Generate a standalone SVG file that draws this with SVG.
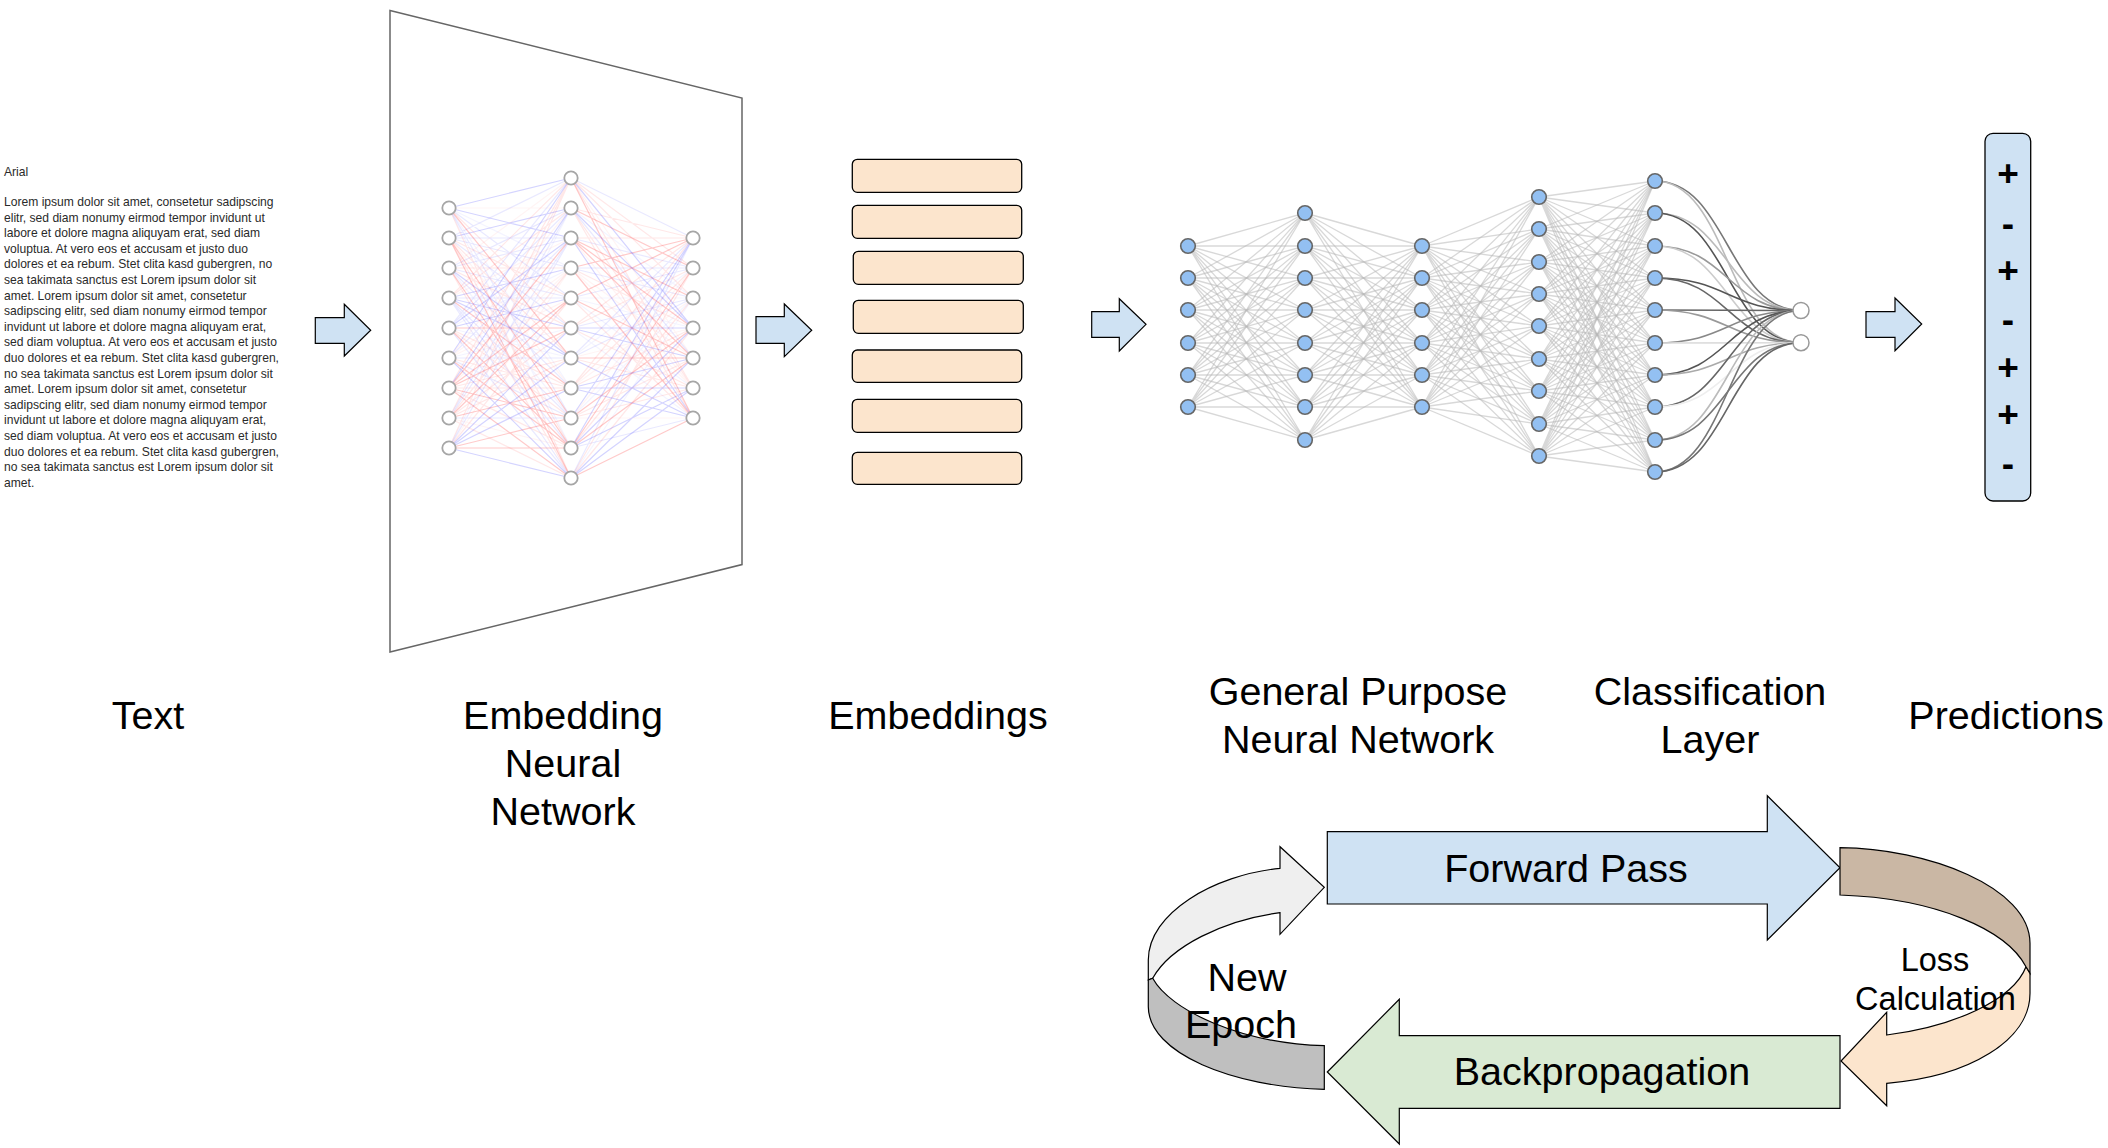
<svg xmlns="http://www.w3.org/2000/svg" width="2108" height="1148" viewBox="0 0 2108 1148">
<style>
.lbl{font-family:"Liberation Sans",Arial,sans-serif;font-size:39.5px;fill:#000;text-anchor:middle}
.small{font-family:"Liberation Sans",Arial,sans-serif;font-size:32.5px;fill:#000;text-anchor:middle}
.body{font-family:"Liberation Sans",Arial,sans-serif;font-size:12.1px;fill:#2a2a2a}
.pm{font-family:"Liberation Sans",Arial,sans-serif;font-size:37px;font-weight:bold;fill:#000;text-anchor:middle}
.flow{fill:#cfe2f3;stroke:#000;stroke-width:1.2}
.emb{fill:#fce5cd;stroke:#000;stroke-width:1.3}
.en{fill:#fff;stroke:#a6a6a6;stroke-width:1.8}
.gn{fill:#93c0f2;stroke:#666;stroke-width:1.6}
.on{fill:#fff;stroke:#999;stroke-width:1.5}
.gl path{stroke:#b8b8b8;stroke-opacity:.55;stroke-width:1.3;fill:none}
.ee path{fill:none;stroke-width:1.2}
.c0{stroke:#ff2a2a;stroke-opacity:.25}
.c1{stroke:#2a2aff;stroke-opacity:.2}
.c2{stroke:#ff2a2a;stroke-opacity:.11}
.c3{stroke:#2a2aff;stroke-opacity:.1}
.c4{stroke:#ff2a2a;stroke-opacity:.05}
.c5{stroke:#2a2aff;stroke-opacity:.05}
.cv path{fill:none;stroke-width:1.6}
.shape{stroke:#000;stroke-width:1.2}
</style>

<g id="text-node">
<text class="body" x="4" y="176">Arial</text>
<text class="body" x="4" y="206">Lorem ipsum dolor sit amet, consetetur sadipscing</text>
<text class="body" x="4" y="221.6">elitr, sed diam nonumy eirmod tempor invidunt ut</text>
<text class="body" x="4" y="237.2">labore et dolore magna aliquyam erat, sed diam</text>
<text class="body" x="4" y="252.8">voluptua. At vero eos et accusam et justo duo</text>
<text class="body" x="4" y="268.4">dolores et ea rebum. Stet clita kasd gubergren, no</text>
<text class="body" x="4" y="284">sea takimata sanctus est Lorem ipsum dolor sit</text>
<text class="body" x="4" y="299.6">amet. Lorem ipsum dolor sit amet, consetetur</text>
<text class="body" x="4" y="315.2">sadipscing elitr, sed diam nonumy eirmod tempor</text>
<text class="body" x="4" y="330.8">invidunt ut labore et dolore magna aliquyam erat,</text>
<text class="body" x="4" y="346.4">sed diam voluptua. At vero eos et accusam et justo</text>
<text class="body" x="4" y="362">duo dolores et ea rebum. Stet clita kasd gubergren,</text>
<text class="body" x="4" y="377.6">no sea takimata sanctus est Lorem ipsum dolor sit</text>
<text class="body" x="4" y="393.2">amet. Lorem ipsum dolor sit amet, consetetur</text>
<text class="body" x="4" y="408.8">sadipscing elitr, sed diam nonumy eirmod tempor</text>
<text class="body" x="4" y="424.4">invidunt ut labore et dolore magna aliquyam erat,</text>
<text class="body" x="4" y="440">sed diam voluptua. At vero eos et accusam et justo</text>
<text class="body" x="4" y="455.6">duo dolores et ea rebum. Stet clita kasd gubergren,</text>
<text class="body" x="4" y="471.2">no sea takimata sanctus est Lorem ipsum dolor sit</text>
<text class="body" x="4" y="486.8">amet.</text>
</g>

<g id="embedding-nn">
<polygon points="390,10.5 742,98 742,564.6 390,652" fill="#fff" stroke="#666" stroke-width="1.5"/>
<g class="ee">
<path class="c4" d="M449 208L571 208M449 238L571 388M449 268L571 178M449 298L571 238M449 358L571 208M449 358L571 268M449 358L571 298M449 388L571 268M449 418L571 448M449 448L571 268M571 178L693 358M571 238L693 388M571 268L693 358M571 268L693 388M571 358L693 328M571 388L693 298M571 418L693 268M571 418L693 418"/>
<path class="c5" d="M449 208L571 268M449 208L571 388M449 208L571 448M449 268L571 418M449 328L571 268M449 328L571 358M449 358L571 328M449 448L571 208M571 208L693 298M571 298L693 298M571 298L693 328M571 298L693 388M571 328L693 418M571 358L693 268M571 418L693 298M571 478L693 298"/>
<path class="c2" d="M449 208L571 328M449 208L571 478M449 238L571 298M449 238L571 358M449 238L571 448M449 268L571 268M449 268L571 328M449 268L571 478M449 298L571 178M449 298L571 208M449 328L571 388M449 328L571 418M449 358L571 388M449 388L571 178M449 388L571 358M449 388L571 388M449 388L571 448M449 418L571 178M449 418L571 268M449 418L571 328M449 418L571 358M449 418L571 478M449 448L571 178M449 448L571 298M571 178L693 268M571 178L693 298M571 178L693 388M571 208L693 238M571 208L693 388M571 208L693 418M571 238L693 238M571 268L693 328M571 298L693 418M571 328L693 238M571 328L693 268M571 328L693 388M571 358L693 388M571 388L693 238M571 388L693 268M571 388L693 328M571 418L693 358M571 418L693 388M571 448L693 298M571 478L693 268M571 478L693 328"/>
<path class="c3" d="M449 208L571 298M449 208L571 418M449 238L571 178M449 238L571 238M449 238L571 268M449 238L571 328M449 268L571 208M449 268L571 238M449 268L571 298M449 268L571 388M449 298L571 298M449 298L571 418M449 298L571 448M449 298L571 478M449 328L571 178M449 328L571 208M449 328L571 478M449 358L571 238M449 358L571 358M449 358L571 418M449 418L571 208M449 418L571 238M449 418L571 418M449 448L571 238M571 178L693 238M571 208L693 358M571 238L693 268M571 268L693 268M571 268L693 298M571 298L693 268M571 328L693 298M571 358L693 238M571 358L693 298M571 448L693 418M571 478L693 238"/>
<path class="c0" d="M449 208L571 358M449 238L571 418M449 238L571 478M449 268L571 448M449 298L571 388M449 328L571 328M449 328L571 448M449 358L571 448M449 388L571 238M449 388L571 298M449 388L571 328M449 388L571 418M449 388L571 478M449 418L571 298M449 418L571 388M449 448L571 418M449 448L571 448M571 178L693 418M571 208L693 268M571 238L693 298M571 238L693 328M571 238L693 358M571 268L693 238M571 268L693 418M571 298L693 238M571 298L693 358M571 358L693 358M571 418L693 328M571 448L693 268M571 448L693 358M571 478L693 418"/>
<path class="c1" d="M449 208L571 178M449 208L571 238M449 238L571 208M449 268L571 358M449 298L571 268M449 298L571 328M449 298L571 358M449 328L571 238M449 328L571 298M449 358L571 178M449 358L571 478M449 388L571 208M449 448L571 328M449 448L571 358M449 448L571 388M449 448L571 478M571 178L693 328M571 208L693 328M571 238L693 418M571 328L693 328M571 328L693 358M571 358L693 418M571 388L693 358M571 388L693 388M571 388L693 418M571 418L693 238M571 448L693 238M571 448L693 328M571 448L693 388M571 478L693 358M571 478L693 388"/>
</g>
<g>
<circle class="en" cx="449" cy="208" r="6.7"/><circle class="en" cx="449" cy="238" r="6.7"/><circle class="en" cx="449" cy="268" r="6.7"/><circle class="en" cx="449" cy="298" r="6.7"/><circle class="en" cx="449" cy="328" r="6.7"/><circle class="en" cx="449" cy="358" r="6.7"/><circle class="en" cx="449" cy="388" r="6.7"/><circle class="en" cx="449" cy="418" r="6.7"/><circle class="en" cx="449" cy="448" r="6.7"/>
<circle class="en" cx="571" cy="178" r="6.7"/><circle class="en" cx="571" cy="208" r="6.7"/><circle class="en" cx="571" cy="238" r="6.7"/><circle class="en" cx="571" cy="268" r="6.7"/><circle class="en" cx="571" cy="298" r="6.7"/><circle class="en" cx="571" cy="328" r="6.7"/><circle class="en" cx="571" cy="358" r="6.7"/><circle class="en" cx="571" cy="388" r="6.7"/><circle class="en" cx="571" cy="418" r="6.7"/><circle class="en" cx="571" cy="448" r="6.7"/><circle class="en" cx="571" cy="478" r="6.7"/>
<circle class="en" cx="693" cy="238" r="6.7"/><circle class="en" cx="693" cy="268" r="6.7"/><circle class="en" cx="693" cy="298" r="6.7"/><circle class="en" cx="693" cy="328" r="6.7"/><circle class="en" cx="693" cy="358" r="6.7"/><circle class="en" cx="693" cy="388" r="6.7"/><circle class="en" cx="693" cy="418" r="6.7"/>
</g>
</g>

<g id="embeddings">
<rect class="emb" x="852.3" y="159.3" width="169.4" height="33" rx="5"/>
<rect class="emb" x="852.3" y="205.3" width="169.4" height="33" rx="5"/>
<rect class="emb" x="853.3" y="251.3" width="170" height="33" rx="5"/>
<rect class="emb" x="853.3" y="300.3" width="170" height="33" rx="5"/>
<rect class="emb" x="852.3" y="350" width="169.4" height="32.3" rx="5"/>
<rect class="emb" x="852.3" y="399.3" width="169.4" height="33" rx="5"/>
<rect class="emb" x="852.3" y="452.3" width="169.4" height="32" rx="5"/>
</g>

<g id="general-purpose-nn">
<g class="gl">
<path d="M1188 246L1305 213M1188 246L1305 246M1188 246L1305 278M1188 246L1305 310M1188 246L1305 343M1188 246L1305 375M1188 246L1305 407M1188 246L1305 440"/>
<path d="M1188 278L1305 213M1188 278L1305 246M1188 278L1305 278M1188 278L1305 310M1188 278L1305 343M1188 278L1305 375M1188 278L1305 407M1188 278L1305 440"/>
<path d="M1188 310L1305 213M1188 310L1305 246M1188 310L1305 278M1188 310L1305 310M1188 310L1305 343M1188 310L1305 375M1188 310L1305 407M1188 310L1305 440"/>
<path d="M1188 343L1305 213M1188 343L1305 246M1188 343L1305 278M1188 343L1305 310M1188 343L1305 343M1188 343L1305 375M1188 343L1305 407M1188 343L1305 440"/>
<path d="M1188 375L1305 213M1188 375L1305 246M1188 375L1305 278M1188 375L1305 310M1188 375L1305 343M1188 375L1305 375M1188 375L1305 407M1188 375L1305 440"/>
<path d="M1188 407L1305 213M1188 407L1305 246M1188 407L1305 278M1188 407L1305 310M1188 407L1305 343M1188 407L1305 375M1188 407L1305 407M1188 407L1305 440"/>
<path d="M1305 213L1422 246M1305 213L1422 278M1305 213L1422 310M1305 213L1422 343M1305 213L1422 375M1305 213L1422 407"/>
<path d="M1305 246L1422 246M1305 246L1422 278M1305 246L1422 310M1305 246L1422 343M1305 246L1422 375M1305 246L1422 407"/>
<path d="M1305 278L1422 246M1305 278L1422 278M1305 278L1422 310M1305 278L1422 343M1305 278L1422 375M1305 278L1422 407"/>
<path d="M1305 310L1422 246M1305 310L1422 278M1305 310L1422 310M1305 310L1422 343M1305 310L1422 375M1305 310L1422 407"/>
<path d="M1305 343L1422 246M1305 343L1422 278M1305 343L1422 310M1305 343L1422 343M1305 343L1422 375M1305 343L1422 407"/>
<path d="M1305 375L1422 246M1305 375L1422 278M1305 375L1422 310M1305 375L1422 343M1305 375L1422 375M1305 375L1422 407"/>
<path d="M1305 407L1422 246M1305 407L1422 278M1305 407L1422 310M1305 407L1422 343M1305 407L1422 375M1305 407L1422 407"/>
<path d="M1305 440L1422 246M1305 440L1422 278M1305 440L1422 310M1305 440L1422 343M1305 440L1422 375M1305 440L1422 407"/>
<path d="M1422 246L1539 197M1422 246L1539 229M1422 246L1539 262M1422 246L1539 294M1422 246L1539 326M1422 246L1539 359M1422 246L1539 391M1422 246L1539 424M1422 246L1539 456"/>
<path d="M1422 278L1539 197M1422 278L1539 229M1422 278L1539 262M1422 278L1539 294M1422 278L1539 326M1422 278L1539 359M1422 278L1539 391M1422 278L1539 424M1422 278L1539 456"/>
<path d="M1422 310L1539 197M1422 310L1539 229M1422 310L1539 262M1422 310L1539 294M1422 310L1539 326M1422 310L1539 359M1422 310L1539 391M1422 310L1539 424M1422 310L1539 456"/>
<path d="M1422 343L1539 197M1422 343L1539 229M1422 343L1539 262M1422 343L1539 294M1422 343L1539 326M1422 343L1539 359M1422 343L1539 391M1422 343L1539 424M1422 343L1539 456"/>
<path d="M1422 375L1539 197M1422 375L1539 229M1422 375L1539 262M1422 375L1539 294M1422 375L1539 326M1422 375L1539 359M1422 375L1539 391M1422 375L1539 424M1422 375L1539 456"/>
<path d="M1422 407L1539 197M1422 407L1539 229M1422 407L1539 262M1422 407L1539 294M1422 407L1539 326M1422 407L1539 359M1422 407L1539 391M1422 407L1539 424M1422 407L1539 456"/>
<path d="M1539 197L1655 181M1539 197L1655 213M1539 197L1655 246M1539 197L1655 278M1539 197L1655 310M1539 197L1655 343M1539 197L1655 375M1539 197L1655 407M1539 197L1655 440M1539 197L1655 472"/>
<path d="M1539 229L1655 181M1539 229L1655 213M1539 229L1655 246M1539 229L1655 278M1539 229L1655 310M1539 229L1655 343M1539 229L1655 375M1539 229L1655 407M1539 229L1655 440M1539 229L1655 472"/>
<path d="M1539 262L1655 181M1539 262L1655 213M1539 262L1655 246M1539 262L1655 278M1539 262L1655 310M1539 262L1655 343M1539 262L1655 375M1539 262L1655 407M1539 262L1655 440M1539 262L1655 472"/>
<path d="M1539 294L1655 181M1539 294L1655 213M1539 294L1655 246M1539 294L1655 278M1539 294L1655 310M1539 294L1655 343M1539 294L1655 375M1539 294L1655 407M1539 294L1655 440M1539 294L1655 472"/>
<path d="M1539 326L1655 181M1539 326L1655 213M1539 326L1655 246M1539 326L1655 278M1539 326L1655 310M1539 326L1655 343M1539 326L1655 375M1539 326L1655 407M1539 326L1655 440M1539 326L1655 472"/>
<path d="M1539 359L1655 181M1539 359L1655 213M1539 359L1655 246M1539 359L1655 278M1539 359L1655 310M1539 359L1655 343M1539 359L1655 375M1539 359L1655 407M1539 359L1655 440M1539 359L1655 472"/>
<path d="M1539 391L1655 181M1539 391L1655 213M1539 391L1655 246M1539 391L1655 278M1539 391L1655 310M1539 391L1655 343M1539 391L1655 375M1539 391L1655 407M1539 391L1655 440M1539 391L1655 472"/>
<path d="M1539 424L1655 181M1539 424L1655 213M1539 424L1655 246M1539 424L1655 278M1539 424L1655 310M1539 424L1655 343M1539 424L1655 375M1539 424L1655 407M1539 424L1655 440M1539 424L1655 472"/>
<path d="M1539 456L1655 181M1539 456L1655 213M1539 456L1655 246M1539 456L1655 278M1539 456L1655 310M1539 456L1655 343M1539 456L1655 375M1539 456L1655 407M1539 456L1655 440M1539 456L1655 472"/>
</g>
<g>
<circle class="gn" cx="1188" cy="246" r="7.3"/><circle class="gn" cx="1188" cy="278" r="7.3"/><circle class="gn" cx="1188" cy="310" r="7.3"/><circle class="gn" cx="1188" cy="343" r="7.3"/><circle class="gn" cx="1188" cy="375" r="7.3"/><circle class="gn" cx="1188" cy="407" r="7.3"/>
<circle class="gn" cx="1305" cy="213" r="7.3"/><circle class="gn" cx="1305" cy="246" r="7.3"/><circle class="gn" cx="1305" cy="278" r="7.3"/><circle class="gn" cx="1305" cy="310" r="7.3"/><circle class="gn" cx="1305" cy="343" r="7.3"/><circle class="gn" cx="1305" cy="375" r="7.3"/><circle class="gn" cx="1305" cy="407" r="7.3"/><circle class="gn" cx="1305" cy="440" r="7.3"/>
<circle class="gn" cx="1422" cy="246" r="7.3"/><circle class="gn" cx="1422" cy="278" r="7.3"/><circle class="gn" cx="1422" cy="310" r="7.3"/><circle class="gn" cx="1422" cy="343" r="7.3"/><circle class="gn" cx="1422" cy="375" r="7.3"/><circle class="gn" cx="1422" cy="407" r="7.3"/>
<circle class="gn" cx="1539" cy="197" r="7.3"/><circle class="gn" cx="1539" cy="229" r="7.3"/><circle class="gn" cx="1539" cy="262" r="7.3"/><circle class="gn" cx="1539" cy="294" r="7.3"/><circle class="gn" cx="1539" cy="326" r="7.3"/><circle class="gn" cx="1539" cy="359" r="7.3"/><circle class="gn" cx="1539" cy="391" r="7.3"/><circle class="gn" cx="1539" cy="424" r="7.3"/><circle class="gn" cx="1539" cy="456" r="7.3"/>
</g>
</g>

<g id="classification-layer">
<g class="cv">
<path stroke="#777" d="M1655 181C1728 181 1728 310.5 1801 310.5"/>
<path stroke="#bbb" d="M1655 181C1728 181 1728 342.7 1801 342.7"/>
<path stroke="#bbb" d="M1655 213C1728 213 1728 310.5 1801 310.5"/>
<path stroke="#555" d="M1655 213C1728 213 1728 342.7 1801 342.7"/>
<path stroke="#999" d="M1655 246C1728 246 1728 310.5 1801 310.5"/>
<path stroke="#ccc" d="M1655 246C1728 246 1728 342.7 1801 342.7"/>
<path stroke="#555" d="M1655 278C1728 278 1728 310.5 1801 310.5"/>
<path stroke="#666" d="M1655 278C1728 278 1728 342.7 1801 342.7"/>
<path stroke="#666" d="M1655 310C1728 310 1728 310.5 1801 310.5"/>
<path stroke="#999" d="M1655 310C1728 310 1728 342.7 1801 342.7"/>
<path stroke="#888" d="M1655 343C1728 343 1728 310.5 1801 310.5"/>
<path stroke="#ddd" d="M1655 343C1728 343 1728 342.7 1801 342.7"/>
<path stroke="#555" d="M1655 375C1728 375 1728 310.5 1801 310.5"/>
<path stroke="#aaa" d="M1655 375C1728 375 1728 342.7 1801 342.7"/>
<path stroke="#666" d="M1655 407C1728 407 1728 310.5 1801 310.5"/>
<path stroke="#eee" d="M1655 407C1728 407 1728 342.7 1801 342.7"/>
<path stroke="#bbb" d="M1655 440C1728 440 1728 310.5 1801 310.5"/>
<path stroke="#777" d="M1655 440C1728 440 1728 342.7 1801 342.7"/>
<path stroke="#777" d="M1655 472C1728 472 1728 310.5 1801 310.5"/>
<path stroke="#666" d="M1655 472C1728 472 1728 342.7 1801 342.7"/>
</g>
<circle class="gn" cx="1655" cy="181" r="7.3"/><circle class="gn" cx="1655" cy="213" r="7.3"/><circle class="gn" cx="1655" cy="246" r="7.3"/><circle class="gn" cx="1655" cy="278" r="7.3"/><circle class="gn" cx="1655" cy="310" r="7.3"/><circle class="gn" cx="1655" cy="343" r="7.3"/><circle class="gn" cx="1655" cy="375" r="7.3"/><circle class="gn" cx="1655" cy="407" r="7.3"/><circle class="gn" cx="1655" cy="440" r="7.3"/><circle class="gn" cx="1655" cy="472" r="7.3"/>
<circle class="on" cx="1801" cy="310.5" r="8"/><circle class="on" cx="1801" cy="342.7" r="8"/>
</g>

<g id="predictions">
<rect x="1985" y="133.3" width="45.7" height="367.7" rx="8" fill="#cfe2f3" stroke="#000" stroke-width="1.3"/>
<text class="pm" x="2008" y="186">+</text>
<text class="pm" x="2008" y="236">-</text>
<text class="pm" x="2008" y="283">+</text>
<text class="pm" x="2008" y="332">-</text>
<text class="pm" x="2008" y="380">+</text>
<text class="pm" x="2008" y="427">+</text>
<text class="pm" x="2008" y="476">-</text>
</g>

<g id="connectors">
<polygon class="flow" points="315.3,317.7 344.3,317.7 344.3,304.3 370.7,330.3 344.3,356 344.3,343.3 315.3,343.3"/>
<polygon class="flow" points="756,316.7 784.3,316.7 784.3,304 811.7,330.3 784.3,356.7 784.3,343.3 756,343.3"/>
<polygon class="flow" points="1091.7,311.7 1119.3,311.7 1119.3,298.7 1146,324.3 1119.3,351 1119.3,337.3 1091.7,337.3"/>
<polygon class="flow" points="1866,311.7 1895,311.7 1895,298 1921.7,324 1895,350.7 1895,337.3 1866,337.3"/>
</g>

<g id="labels">
<text class="lbl" x="148" y="729">Text</text>
<text class="lbl" x="563" y="729">Embedding</text>
<text class="lbl" x="563" y="777">Neural</text>
<text class="lbl" x="563" y="825">Network</text>
<text class="lbl" x="938" y="729">Embeddings</text>
<text class="lbl" x="1358" y="705">General Purpose</text>
<text class="lbl" x="1358" y="753">Neural Network</text>
<text class="lbl" x="1710" y="705">Classification</text>
<text class="lbl" x="1710" y="753">Layer</text>
<text class="lbl" x="2006" y="729">Predictions</text>
</g>

<g id="new-epoch">
<path class="shape" fill="#efefef" d="M1148.3 980L1148.3 960C1148.3 913.3 1213.3 875 1280 868.3L1280 846.7L1324.3 887.3L1280 934.3L1280 912.7C1223.3 920 1170 946.7 1152.7 978.3Z"/>
<path class="shape" fill="#bfbfbf" d="M1152.7 978.3C1170 1010 1240 1043.3 1324.3 1045.7L1324.3 1089.3C1233.3 1087.3 1148.3 1053.3 1148.3 1006.7L1148.3 980Z"/>
</g>

<g id="forward-pass">
<polygon class="shape" fill="#cfe2f3" points="1327.3,831.7 1767.3,831.7 1767.3,795.7 1840,867.8 1767.3,940 1767.3,904 1327.3,904"/>
<text class="lbl" x="1566" y="882" font-size="40">Forward Pass</text>
</g>

<g id="backpropagation">
<polygon class="shape" fill="#d9ead3" points="1327.3,1072 1399.3,999.3 1399.3,1035.7 1840,1035.7 1840,1108.3 1399.3,1108.3 1399.3,1144"/>
<text class="lbl" x="1602" y="1085" font-size="40">Backpropagation</text>
</g>

<g id="loss-calculation">
<path class="shape" fill="#fce5cd" d="M2026 966.7C2013.3 1000 1953.3 1026.7 1886.7 1035L1886.7 1012.3L1841 1061L1886.7 1105.7L1886.7 1083.3C1970 1076.7 2030 1040 2030 993.3L2030 973.3Z"/>
<path class="shape" fill="#cab7a4" d="M1840 847.7C1926.7 848.3 2030 886.7 2030 943.3L2030 973.3L2026 966.7C2006.7 930 1936.7 898.3 1840 895Z"/>
</g>

<g id="cycle-labels">
<text class="lbl" x="1247" y="990.7">New</text>
<text class="lbl" x="1241" y="1038.3">Epoch</text>
<text class="small" x="1935" y="971">Loss</text>
<text class="small" x="1935.5" y="1010">Calculation</text>
</g>
</svg>
